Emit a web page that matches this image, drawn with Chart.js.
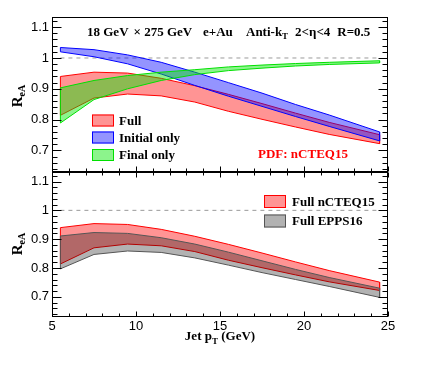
<!DOCTYPE html>
<html><head><meta charset="utf-8">
<script src="https://cdn.jsdelivr.net/npm/chart.js@4.4.0/dist/chart.umd.min.js"></script>
<style>
html,body{margin:0;padding:0;background:#fff;}
#wrap{position:relative;width:432px;height:366px;background:#fff;}
canvas{position:absolute;left:0;top:0;}
</style></head><body>
<div id="wrap"><canvas id="cTop" width="432" height="366"></canvas><canvas id="cBot" width="432" height="366"></canvas></div>
<script>
// ---- data ----
const ptX      = [5.5, 7.5, 9.5, 11.5, 13.5, 15.5, 17.5, 19.5, 21.5, 24.5];
const fullHi   = [0.940, 0.954, 0.951, 0.934, 0.910, 0.882, 0.852, 0.821, 0.791, 0.751];
const fullLo   = [0.814, 0.870, 0.883, 0.877, 0.857, 0.827, 0.801, 0.776, 0.752, 0.722];
const initHi   = [1.034, 1.027, 1.010, 0.986, 0.954, 0.920, 0.886, 0.849, 0.815, 0.760];
const initLo   = [1.020, 1.004, 0.981, 0.948, 0.911, 0.876, 0.843, 0.810, 0.778, 0.731];
const finalHi  = [0.903, 0.927, 0.943, 0.954, 0.962, 0.971, 0.977, 0.982, 0.986, 0.991];
const finalLo  = [0.789, 0.865, 0.900, 0.927, 0.946, 0.959, 0.967, 0.974, 0.979, 0.984];
const eppsHi   = [0.911, 0.923, 0.920, 0.905, 0.883, 0.855, 0.825, 0.795, 0.767, 0.730];
const eppsLo   = [0.797, 0.847, 0.859, 0.854, 0.835, 0.810, 0.784, 0.760, 0.736, 0.698];
const xTicks   = [5, 10, 15, 20, 25];
const yTicks   = [0.7, 0.8, 0.9, 1.0, 1.1];
const topLegend = ['Full', 'Initial only', 'Final only'];
const botLegend = ['Full nCTEQ15', 'Full EPPS16'];

// ---- styles ----
const C = {
  red:   {fill:'rgba(255,0,0,0.42)', line:'#ff0000'},
  blue:  {fill:'rgba(0,0,255,0.42)', line:'#0000ff'},
  green: {fill:'rgba(0,230,0,0.45)', line:'#00e000'},
  gray:  {fill:'rgba(0,0,0,0.30)',   line:'#555555'}
};
const SERIF = '"Liberation Serif", "Times New Roman", serif';
const SANS = '"Liberation Sans", Arial, sans-serif';

function band(hi, lo) {
  const pts = ptX.map((x, i) => ({x, y: hi[i]}));
  for (let i = ptX.length - 1; i >= 0; i--) pts.push({x: ptX[i], y: lo[i]});
  pts.push({x: ptX[0], y: hi[0]});
  return pts;
}
function bandDs(hi, lo, col) {
  return {data: band(hi, lo), showLine: true, fill: 'shape', backgroundColor: col.fill,
    borderColor: col.line, borderWidth: 1, pointRadius: 0, tension: 0};
}
function unityDs() {
  return {data: [{x: ptX[0], y: 1}, {x: ptX[ptX.length - 1], y: 1}], showLine: true, fill: false,
    borderColor: '#9a9a9a', borderWidth: 1, borderDash: [4, 4], pointRadius: 0};
}

function fmt(v) { return (Math.round(v * 10) / 10).toString(); }

function drawFrame(chart, edges) {
  const ctx = chart.ctx, a = chart.chartArea, x = chart.scales.x, y = chart.scales.y;
  const L = Math.round(a.left) + 0.5, R = Math.round(a.right) - 0.5;
  const T = Math.round(a.top) + 0.5, B = Math.round(a.bottom) - 0.5;
  ctx.save();
  ctx.strokeStyle = '#000'; ctx.lineWidth = 1;
  ctx.strokeRect(L, T, R - L, B - T);
  ctx.beginPath();
  for (let k = 32; k <= 56; k++) {
    const v = k * 0.02, py = Math.round(y.getPixelForValue(v)) + 0.5;
    if (py < a.top || py > a.bottom) continue;
    const len = (k % 5 === 0) ? 9 : 5;
    ctx.moveTo(L, py); ctx.lineTo(L + len, py);
    ctx.moveTo(R, py); ctx.lineTo(R - len, py);
  }
  for (let v = 5; v <= 25; v++) {
    const px = Math.round(x.getPixelForValue(v)) + 0.5;
    const len = (v % 5 === 0) ? 5 : 3;
    if (edges.bottom) { ctx.moveTo(px, B); ctx.lineTo(px, B - len); }
    if (edges.top) { ctx.moveTo(px, T); ctx.lineTo(px, T + len); }
  }
  ctx.stroke();
  ctx.restore();
}

function drawYTitle(ctx, cx, cy) {
  ctx.save();
  ctx.translate(cx, cy);
  ctx.rotate(-Math.PI / 2);
  ctx.fillStyle = '#000';
  ctx.textBaseline = 'alphabetic';
  ctx.font = 'bold 15px ' + SERIF;
  const wR = ctx.measureText('R').width;
  ctx.font = 'bold 10px ' + SERIF;
  const wS = ctx.measureText('eA').width;
  const x0 = -(wR + wS) / 2;
  ctx.font = 'bold 15px ' + SERIF;
  ctx.fillText('R', x0, 5);
  ctx.font = 'bold 10px ' + SERIF;
  ctx.fillText('eA', x0 + wR, 8);
  ctx.restore();
}

function drawLegend(ctx, items, x0, w, h, rows, tx, size) {
  items.forEach((it, i) => {
    const cy = rows[i];
    ctx.fillStyle = '#fff';
    ctx.fillRect(x0, cy - h / 2, w, h);
    ctx.fillStyle = it.col.fill;
    ctx.fillRect(x0, cy - h / 2, w, h);
    ctx.strokeStyle = it.col.line; ctx.lineWidth = 1;
    ctx.strokeRect(x0 + 0.5, cy - h / 2 + 0.5, w - 1, h - 1);
    ctx.fillStyle = '#000';
    ctx.font = 'bold ' + size + 'px ' + SERIF;
    ctx.textBaseline = 'middle';
    ctx.fillText(it.label, tx, cy + 1);
  });
}

const topPlugin = {
  id: 'topDeco',
  afterDatasetsDraw(chart) {
    drawFrame(chart, {bottom: true, top: false});
    const ctx = chart.ctx;
    ctx.save();
    // header (segments flowed from their reference start positions)
    ctx.fillStyle = '#000';
    ctx.textBaseline = 'alphabetic';
    const by = 36, big = 'bold 13px ' + SERIF, sub = 'bold 9px ' + SERIF;
    let cur = 0;
    function seg(txt, start, gap) {
      ctx.font = big;
      const x = Math.max(start, cur + gap);
      ctx.fillText(txt, x, by);
      cur = x + ctx.measureText(txt).width;
    }
    seg('18 GeV', 87, 0);
    seg('\u00d7 275 GeV', 133, 5);
    seg('e+Au', 203, 8);
    seg('Anti-k', 246, 7);
    ctx.font = sub;
    ctx.fillText('T', cur, by + 3);
    cur += ctx.measureText('T').width;
    seg('2<\u03b7<4', 289, 7);
    seg('R=0.5', 330, 7);
    // legend
    drawLegend(ctx, [
      {label: topLegend[0], col: C.red},
      {label: topLegend[1], col: C.blue},
      {label: topLegend[2], col: C.green}
    ], 92, 22, 12, [120.5, 137.5, 155], 119, 13);
    ctx.fillStyle = '#ff0000';
    ctx.font = 'bold 13px ' + SERIF;
    ctx.textBaseline = 'middle';
    ctx.fillText('PDF: nCTEQ15', 258, 155);
    drawYTitle(ctx, 17, 96);
    ctx.restore();
  }
};

const botPlugin = {
  id: 'botDeco',
  afterDatasetsDraw(chart) {
    drawFrame(chart, {bottom: true, top: true});
    const ctx = chart.ctx;
    ctx.save();
    drawLegend(ctx, [
      {label: botLegend[0], col: C.red},
      {label: botLegend[1], col: C.gray}
    ], 264, 22, 13, [201.5, 221], 292, 13);
    drawYTitle(ctx, 17, 244);
    // x title
    ctx.fillStyle = '#000';
    ctx.textBaseline = 'alphabetic';
    ctx.font = 'bold 13px ' + SERIF;
    const s1 = 'Jet p', s3 = ' (GeV)';
    const w1 = ctx.measureText(s1).width, w3 = ctx.measureText(s3).width;
    ctx.font = 'bold 9px ' + SERIF;
    const w2 = ctx.measureText('T').width;
    const x0 = 220 - (w1 + w2 + w3) / 2, by = 340;
    ctx.font = 'bold 13px ' + SERIF;
    ctx.fillText(s1, x0, by);
    ctx.fillText(s3, x0 + w1 + w2, by);
    ctx.font = 'bold 9px ' + SERIF;
    ctx.fillText('T', x0 + w1, by + 4);
    ctx.restore();
  }
};

function yScale() {
  return {
    type: 'linear', min: 0.63, max: 1.133,
    grid: {display: false, drawTicks: false}, border: {display: false},
    afterBuildTicks: s => { s.ticks = yTicks.map(v => ({value: v})); },
    afterFit: s => { s.width = 52; },
    ticks: {padding: 3, color: '#000', font: {family: SANS, size: 13}, callback: v => fmt(v)}
  };
}

Chart.defaults.animation = false;

new Chart(document.getElementById('cTop'), {
  type: 'scatter',
  data: {datasets: [
    bandDs(finalHi, finalLo, C.green),
    bandDs(initHi, initLo, C.blue),
    bandDs(fullHi, fullLo, C.red),
    unityDs()
  ]},
  options: {
    responsive: false, animation: false, devicePixelRatio: 1,
    layout: {padding: {left: 0, top: 17, right: 44, bottom: 194}},
    plugins: {legend: {display: false}, tooltip: {enabled: false}},
    scales: {
      x: {type: 'linear', min: 5, max: 25, display: false},
      y: yScale()
    }
  },
  plugins: [topPlugin]
});

new Chart(document.getElementById('cBot'), {
  type: 'scatter',
  data: {datasets: [
    bandDs(eppsHi, eppsLo, C.gray),
    bandDs(fullHi, fullLo, C.red),
    unityDs()
  ]},
  options: {
    responsive: false, animation: false, devicePixelRatio: 1,
    layout: {padding: {left: 0, top: 172, right: 44, bottom: 0}},
    plugins: {legend: {display: false}, tooltip: {enabled: false}},
    scales: {
      x: {
        type: 'linear', min: 5, max: 25,
        grid: {display: false, drawTicks: false}, border: {display: false},
        afterBuildTicks: s => { s.ticks = xTicks.map(v => ({value: v})); },
        afterFit: s => { s.height = 49; },
        ticks: {padding: 2, color: '#000', font: {family: SANS, size: 13}, maxRotation: 0}
      },
      y: yScale()
    }
  },
  plugins: [botPlugin]
});
</script>
</body></html>
